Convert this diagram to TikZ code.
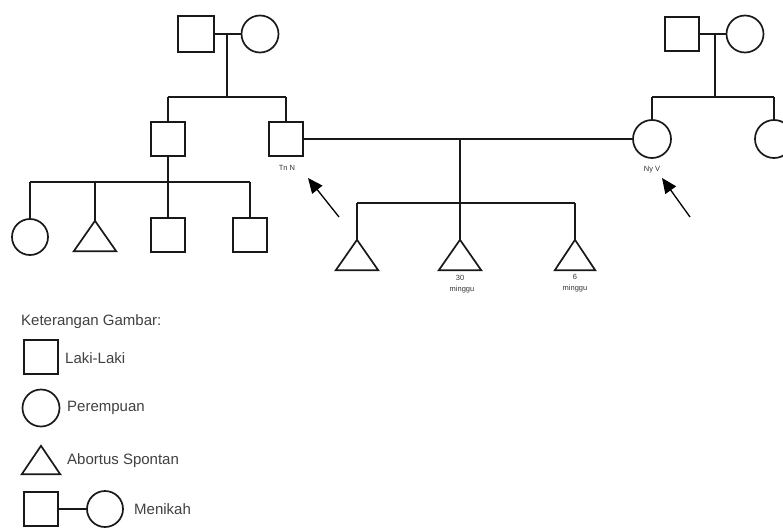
\documentclass[tikz,border=0pt]{standalone}
\usepackage{fontspec}
\setmainfont{Liberation Sans}
\usetikzlibrary{arrows.meta}
\begin{document}
\begin{tikzpicture}[x=1pt,y=-1pt,
  ped/.style={line width=1.7pt, black!90},
  sq/.style={draw, ped, rectangle, minimum size=34pt, inner sep=0pt},
  ci/.style={draw, ped, circle, minimum size=37pt, inner sep=0pt},
  tribox/.style={rectangle, minimum width=42pt, minimum height=30pt, inner sep=0pt},
  lbl/.style={font=\fontsize{7.5}{9}\selectfont, text=black!80, inner sep=0pt},
  leg/.style={font=\fontsize{15}{17}\selectfont, text=black!75, anchor=west, inner sep=0pt},
  arr/.style={line width=1.3pt, -{Triangle[length=15pt,width=13pt]}}
]
\useasboundingbox (0,0) rectangle (783,527);
\clip (0,0) rectangle (783,527);

% top-left couple
\node[sq, minimum size=36pt] (gfL) at (196,34) {};
\node[ci] (gmL) at (260,34) {};
\draw[ped] (gfL) -- (gmL);
\coordinate (mL) at (227,34);
\coordinate (sL) at (227,97);
\draw[ped] (mL) -- (sL);

% their children
\node[sq] (uA) at (168,139) {};
\node[sq] (tn) at (286,139) {};
\coordinate (sLa) at (168,97);
\coordinate (sLb) at (286,97);
\draw[ped] (sLa) -- (sLb);
\draw[ped] (sLa) -- (uA.north);
\draw[ped] (sLb) -- (tn.north);
\node[lbl] (tnl) at (287,168) {Tn N};

% left sibship
\coordinate (lA) at (30,182);
\coordinate (lB) at (95,182);
\coordinate (lC) at (168,182);
\coordinate (lD) at (250,182);
\draw[ped] (uA.south) -- (lC);
\draw[ped] (lA) -- (lD);
\node[ci, minimum size=36pt] (c1) at (30,237) {};
\node[tribox] (t0) at (95,236) {};
\draw[ped, line join=miter] (t0.south west) -- (t0.south east) -- (t0.north) -- cycle;
\node[sq] (c3) at (168,235) {};
\node[sq] (c4) at (250,235) {};
\draw[ped] (lA) -- (c1.north);
\draw[ped] (lB) -- (t0.north);
\draw[ped] (lC) -- (c3.north);
\draw[ped] (lD) -- (c4.north);

% top-right couple
\node[sq] (gfR) at (682,34) {};
\node[ci] (gmR) at (745,34) {};
\draw[ped] (gfR) -- (gmR);
\coordinate (mR) at (715,34);
\coordinate (sR) at (715,97);
\draw[ped] (mR) -- (sR);
\node[ci, minimum size=38pt] (ny) at (652,139) {};
\node[ci, minimum size=38pt] (sis) at (774,139) {};
\coordinate (sRa) at (652,97);
\coordinate (sRb) at (774,97);
\draw[ped] (sRa) -- (sRb);
\draw[ped] (sRa) -- (ny.north);
\draw[ped] (sRb) -- (sis.north);
\node[lbl] (nyl) at (652,170) {Ny V};

% Tn N -- Ny V marriage
\draw[ped] (tn.east) -- (ny.west);
\coordinate (mC) at (460,139);
\coordinate (sC) at (460,203);
\draw[ped] (mC) -- (sC);
\coordinate (sCa) at (357,203);
\coordinate (sCc) at (575,203);
\draw[ped] (sCa) -- (sCc);
\node[tribox] (t1) at (357,255) {};
\node[tribox] (t2) at (460,255) {};
\node[tribox, minimum width=40pt] (t3) at (575,255) {};
\foreach \t in {t1,t2,t3}{
  \draw[ped, line join=miter] (\t.south west) -- (\t.south east) -- (\t.north) -- cycle;
}
\draw[ped] (sCa) -- (t1.north);
\draw[ped] (sC) -- (t2.north);
\draw[ped] (sCc) -- (t3.north);
\node[lbl] (t2a) at (460,278) {30};
\node[lbl] (t2b) at (462,290) {minggu};
\node[lbl] (t3a) at (575,277) {6};
\node[lbl] (t3b) at (575,289) {minggu};

% arrows
\coordinate (aT1) at (339,217);
\coordinate (aH1) at (308,178);
\draw[arr] (aT1) -- (aH1);
\coordinate (aT2) at (690,217);
\coordinate (aH2) at (662,178);
\draw[arr] (aT2) -- (aH2);

% legend
\node[leg] (lt) at (21,322) {Keterangan Gambar:};
\node[sq] (ls) at (41,357) {};
\node[leg] (lst) at (65,358) {Laki-Laki};
\node[ci] (lc) at (41,408) {};
\node[leg] (lct) at (67,408) {Perempuan};
\node[tribox, minimum width=38pt, minimum height=28pt] (ltr) at (41,460) {};
\draw[ped, line join=miter] (ltr.south west) -- (ltr.south east) -- (ltr.north) -- cycle;
\node[leg] (ltt) at (67,461) {Abortus Spontan};
\node[sq] (lms) at (41,509) {};
\node[ci, minimum size=36pt] (lmc) at (105,509) {};
\draw[ped] (lms) -- (lmc);
\node[leg] (lmt) at (134,509) {Menikah};
\end{tikzpicture}
\end{document}
